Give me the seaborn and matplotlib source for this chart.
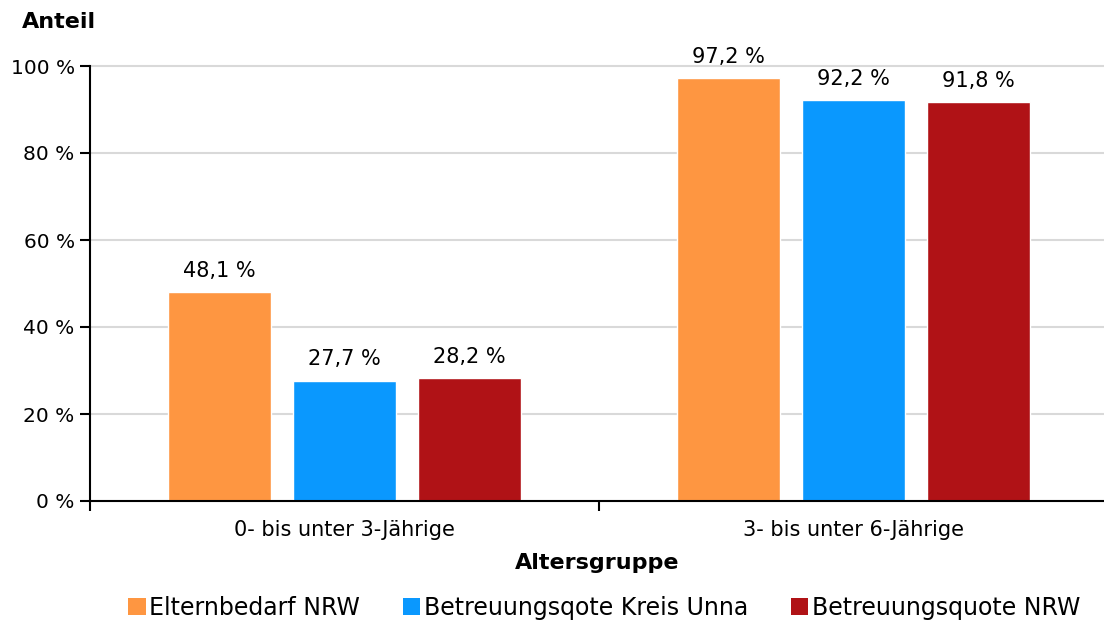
import matplotlib
matplotlib.use("Agg")
import matplotlib.pyplot as plt
from matplotlib.patches import Patch
import seaborn as sns
import pandas as pd

# Data
age_groups = ["0- bis unter 3-Jährige", "3- bis unter 6-Jährige"]
series = ["Elternbedarf NRW", "Betreuungsqote Kreis Unna", "Betreuungsquote NRW"]
elternbedarf_nrw = [48.1, 97.2]
quote_kreis_unna = [27.7, 92.2]
quote_nrw = [28.2, 91.8]
y_ticks = [0, 20, 40, 60, 80, 100]
colors = ["#FE9641", "#0A98FE", "#B01216"]

rows = []
for s, vals in zip(series, [elternbedarf_nrw, quote_kreis_unna, quote_nrw]):
    for g, v in zip(age_groups, vals):
        rows.append({"Altersgruppe": g, "Reihe": s, "Anteil": v})
df = pd.DataFrame(rows)

sns.set_theme(style="white")
plt.rcParams["font.family"] = ["DejaVu Sans"]
plt.rcParams["text.color"] = "black"
plt.rcParams["axes.labelcolor"] = "black"
plt.rcParams["xtick.color"] = "black"
plt.rcParams["ytick.color"] = "black"

fig = plt.figure(figsize=(11.04, 6.24), dpi=100)
ax = fig.add_axes([90 / 1104, 1 - 501 / 624, 1 - 90 / 1104, (501 - 66) / 624])

sns.barplot(data=df, x="Altersgruppe", y="Anteil", hue="Reihe",
            hue_order=series, order=age_groups, palette=colors,
            width=0.737, gap=0.17, saturation=1, ax=ax, legend=False)

ax.set_ylim(0, 100)
ax.set_xlim(-0.5, 1.5 - 4 / 509)
ax.set_yticks(y_ticks)
ax.set_yticklabels([f"{t} %" for t in y_ticks], fontsize=14.5)
ax.yaxis.grid(True, color="#d9d9d9", linewidth=1.5)
ax.set_axisbelow(True)
for gl in ax.get_ygridlines():
    gl.set_clip_on(False)

# category labels centred, boundary ticks between groups
ax.set_xticks([0, 1])
ax.set_xticklabels(age_groups, fontsize=15)
ax.set_xticks([-0.5, 0.5], minor=True)
ax.tick_params(axis="x", which="major", length=0, pad=14, bottom=True)
ax.tick_params(axis="x", which="minor", length=7, width=1.5, color="black",
               direction="out", bottom=True)
ax.tick_params(axis="y", length=7, width=1.5, color="black", direction="out",
               left=True, pad=4)

for side in ["top", "right"]:
    ax.spines[side].set_visible(False)
for side in ["left", "bottom"]:
    ax.spines[side].set_color("black")
    ax.spines[side].set_linewidth(1.5)

ax.set_xlabel("Altersgruppe", fontsize=16, fontweight="bold", labelpad=9)
ax.set_ylabel("")
fig.text(22 / 1104, 1 - 22 / 624, "Anteil", fontsize=16, fontweight="bold",
         ha="left", va="center")

for cont in ax.containers:
    labels = [f"{v:.1f} %".replace(".", ",") for v in cont.datavalues]
    ax.bar_label(cont, labels=labels, padding=8, fontsize=15)

handles = [Patch(facecolor=c, edgecolor="none") for c in colors]
fig.legend(handles, series, loc="center", bbox_to_anchor=(604 / 1104, 1 - 608 / 624),
           ncol=3, frameon=False, handlelength=0.75, handleheight=0.75,
           handletextpad=0.15, columnspacing=1.8,
           prop={"size": 17})

fig.savefig("out.png", dpi=100)
